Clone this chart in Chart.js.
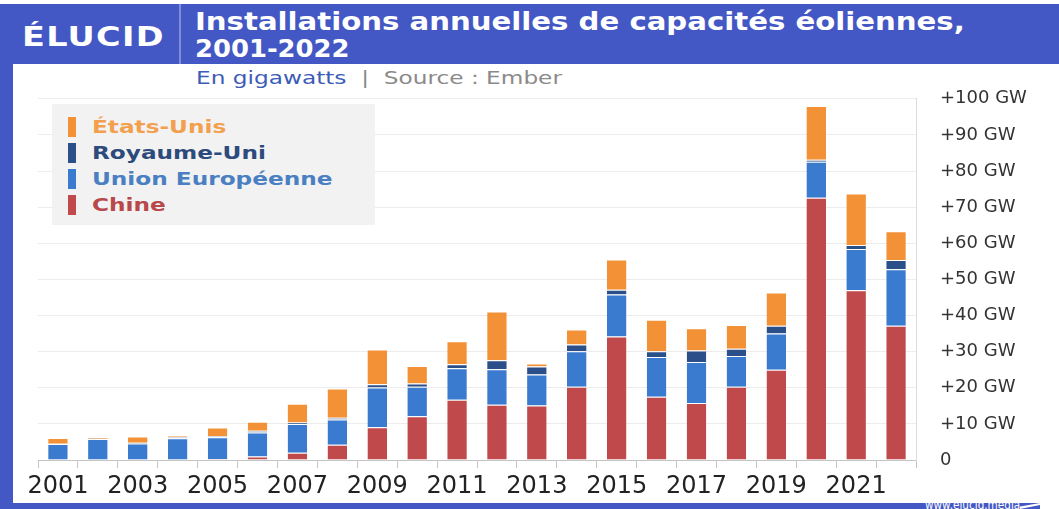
<!DOCTYPE html>
<html lang="fr">
<head>
  <meta charset="UTF-8" />
  <title>Installations annuelles de capacités éoliennes</title>
  <script src="https://cdn.jsdelivr.net/npm/chart.js"></script>
  <style>
    body {
      margin: 0;
      width: 1059px;
      height: 509px;
      overflow: hidden;
      background: #fff;
      font-family: "DejaVu Sans", sans-serif;
      position: relative;
    }

    .header {
      position: absolute;
      left: 0;
      top: 4px;
      width: 1059px;
      height: 60px;
      background: #4358c4;
    }

    .stretch {
      position: absolute;
      white-space: nowrap;
      transform-origin: 0 50%;
    }

    .logo {
      left: 22px;
      top: 18px;
      color: #fff;
      font-weight: bold;
      font-size: 26px;
      letter-spacing: 1px;
    }

    .divider {
      position: absolute;
      left: 179px;
      top: 0;
      width: 2px;
      height: 60px;
      background: #7f8fd6;
    }

    .title {
      left: 195px;
      color: #fff;
      font-weight: bold;
      font-size: 25px;
    }

    .frame-left {
      position: absolute;
      left: 0;
      top: 64px;
      width: 13px;
      height: 445px;
      background: #4358c4;
    }

    .frame-bottom {
      position: absolute;
      left: 0;
      top: 503px;
      width: 1040px;
      height: 6px;
      background: #4358c4;
      overflow: hidden;
    }

    .frame-bottom .url {
      left: 925px;
      top: -5px;
      color: #fff;
      font-size: 12px;
    }

    .frame-bottom .mark {
      position: absolute;
      left: 1020px;
      top: 0;
      width: 20px;
      height: 6px;
      background: #fff;
      clip-path: polygon(0 60%, 100% 0, 100% 35%, 0 100%);
    }

    .subtitle {
      left: 196px;
      top: 68px;
      font-size: 17px;
      color: #8a8a8a;
    }

    .subtitle .unit {
      color: #3c5cb8;
    }

    .chart-box {
      position: absolute;
      left: 13px;
      top: 64px;
      width: 1046px;
      height: 439px;
    }

    .legend {
      position: absolute;
      left: 52px;
      top: 104px;
      width: 323px;
      height: 121px;
      background: #f2f2f2;
    }

    .legend .swatch {
      position: absolute;
      left: 16px;
      width: 8px;
      height: 20px;
    }

    .legend .stretch {
      left: 40px;
      height: 20px;
      line-height: 20px;
      font-weight: bold;
      font-size: 18px;
    }
  </style>
</head>
<body>
  <div class="header">
    <div class="stretch logo" data-w="143">ÉLUCID</div>
    <div class="divider"></div>
    <div class="stretch title" style="top: 3px" data-w="770">Installations annuelles de capacités éoliennes,</div>
    <div class="stretch title" style="top: 30px" data-w="155">2001-2022</div>
  </div>
  <div class="stretch subtitle" data-w="366"><span class="unit">En gigawatts</span> &nbsp;|&nbsp; Source : Ember</div>

  <div class="chart-box">
    <canvas id="windChart"></canvas>
  </div>

  <div class="legend" id="legend"></div>

  <div class="frame-left"></div>
  <div class="frame-bottom"><span class="stretch url" data-w="95">www.elucid.media</span><div class="mark"></div></div>

  <script>
    const years = [
      "2001", "2002", "2003", "2004", "2005", "2006", "2007", "2008",
      "2009", "2010", "2011", "2012", "2013", "2014", "2015", "2016",
      "2017", "2018", "2019", "2020", "2021", "2022"
    ];

    // GW installed per year
    const chine = [0, 0, 0, 0, 0.3, 1.0, 2.0, 4.2, 9.1, 12.1, 16.7, 15.3, 15.1, 20.3, 34.2, 17.5, 15.8, 20.3, 25.0, 72.6, 47.0, 37.2];
    const unionEuropeenne = [4.4, 5.8, 4.6, 6.0, 6.0, 6.6, 8.0, 7.0, 11.0, 8.2, 8.7, 9.8, 8.6, 9.8, 11.6, 11.0, 11.3, 8.5, 10.0, 10.0, 11.4, 15.6];
    const royaumeUni = [0.1, 0.1, 0.2, 0.3, 0.3, 0.5, 0.4, 0.5, 0.9, 0.9, 1.1, 2.5, 2.2, 1.9, 1.3, 1.6, 3.2, 2.0, 2.2, 0.5, 1.1, 2.6];
    const etatsUnis = [1.6, 0.4, 1.7, 0.4, 2.4, 2.5, 5.2, 8.1, 9.6, 4.8, 6.4, 13.5, 0.8, 4.1, 8.4, 8.7, 6.2, 6.6, 9.2, 14.9, 14.3, 7.9];

    const yTicks = [0, 10, 20, 30, 40, 50, 60, 70, 80, 90, 100];

    const series = [
      { label: "Chine", data: chine, color: "#c0494b", text: "#b8484a" },
      { label: "Union Européenne", data: unionEuropeenne, color: "#3a7bd0", text: "#4a80c2" },
      { label: "Royaume-Uni", data: royaumeUni, color: "#2b4f88", text: "#2d4a7c" },
      { label: "États-Unis", data: etatsUnis, color: "#f39137", text: "#f2a04e" }
    ];

    // legend, top item first
    const legendEl = document.getElementById("legend");
    series.slice().reverse().forEach((s, i) => {
      const top = (13 + i * 26) + "px";
      const sw = document.createElement("div");
      sw.className = "swatch";
      sw.style.background = s.color;
      sw.style.top = top;
      legendEl.appendChild(sw);
      const item = document.createElement("div");
      item.className = "stretch";
      item.textContent = s.label;
      item.style.color = s.text;
      item.style.top = top;
      legendEl.appendChild(item);
    });
    // the legend text runs wide, same stretch as "Union Européenne" at 241px
    const legendItems = legendEl.querySelectorAll(".stretch");
    const legendScale = 241 / legendItems[2].scrollWidth;
    legendItems.forEach(el => { el.style.transform = "scaleX(" + legendScale + ")"; });

    // widen header texts to their given widths
    document.querySelectorAll("[data-w]").forEach(el => {
      el.style.transform = "scaleX(" + (Number(el.dataset.w) / el.scrollWidth) + ")";
    });

    const ctx = document.getElementById("windChart").getContext("2d");
    new Chart(ctx, {
      type: "bar",
      data: {
        labels: years,
        datasets: series.map(s => ({
          label: s.label,
          data: s.data,
          backgroundColor: s.color,
          borderColor: "rgba(255,255,255,0.85)",
          borderWidth: { top: 1, left: 0, right: 0, bottom: 0 },
          borderSkipped: false,
          categoryPercentage: 1,
          barPercentage: 0.49
        }))
      },
      options: {
        responsive: true,
        maintainAspectRatio: false,
        animation: false,
        layout: {
          // chart area ends up at top 31 once the y labels add their half height
          padding: { left: 25, top: 23.2, right: 0, bottom: 0 }
        },
        plugins: {
          legend: { display: false },
          tooltip: { enabled: false }
        },
        scales: {
          x: {
            stacked: true,
            grid: {
              drawOnChartArea: false,
              drawTicks: true,
              tickLength: 8,
              color: "#c4c4c4",
              offset: true
            },
            border: { display: true, color: "#c4c4c4" },
            ticks: {
              autoSkip: false,
              maxRotation: 0,
              padding: 4,
              color: "#222",
              font: { family: "DejaVu Sans", size: 24 },
              callback: function (value, index) {
                return index % 2 === 0 ? years[index] : "";
              }
            },
            afterFit: function (scale) {
              scale.height = 43;
            }
          },
          y: {
            stacked: true,
            position: "right",
            min: 0,
            max: 100,
            afterBuildTicks: function (scale) {
              scale.ticks = yTicks.map(v => ({ value: v }));
            },
            grid: {
              color: "#ececec",
              drawTicks: false
            },
            border: { display: true, color: "#dcdcdc" },
            ticks: {
              padding: 24,
              color: "#333",
              font: { family: "DejaVu Sans", size: 18 },
              callback: function (value) {
                return value === 0 ? "0" : "+" + value + " GW";
              }
            },
            afterFit: function (scale) {
              scale.width = 143;
            }
          }
        }
      }
    });
  </script>
</body>
</html>
